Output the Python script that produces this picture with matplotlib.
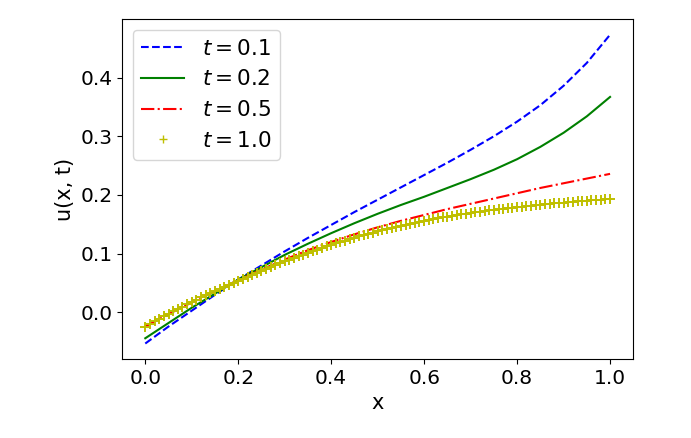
import matplotlib
matplotlib.use("Agg")
import matplotlib.pyplot as plt

# x grid for the line curves
x_lines = [0.00, 0.05, 0.10, 0.15, 0.20, 0.25, 0.30, 0.35, 0.40, 0.45, 0.50,
           0.55, 0.60, 0.65, 0.70, 0.75, 0.80, 0.85, 0.90, 0.95, 1.00]

u_t01 = [-0.053, -0.024, 0.003, 0.030, 0.056, 0.080, 0.104, 0.127, 0.149, 0.171, 0.192,
         0.213, 0.234, 0.255, 0.277, 0.300, 0.325, 0.353, 0.386, 0.425, 0.473]
u_t02 = [-0.044, -0.018, 0.008, 0.032, 0.056, 0.077, 0.098, 0.117, 0.135, 0.152, 0.168,
         0.183, 0.197, 0.212, 0.227, 0.243, 0.261, 0.282, 0.306, 0.334, 0.367]
u_t05 = [-0.024, -0.003, 0.017, 0.036, 0.055, 0.073, 0.090, 0.106, 0.120, 0.133, 0.145,
         0.156, 0.166, 0.176, 0.185, 0.194, 0.203, 0.212, 0.220, 0.228, 0.236]

# marker series (t = 1.0), sampled every 0.01
x_markers = [i / 100 for i in range(101)]
u_t10 = [-0.0240, -0.0196, -0.0152, -0.0109, -0.0066, -0.0024, 0.0018, 0.0059, 0.0100, 0.0140,
         0.0180, 0.0218, 0.0256, 0.0293, 0.0330, 0.0366, 0.0402, 0.0437, 0.0472, 0.0506,
         0.0540, 0.0574, 0.0608, 0.0642, 0.0675, 0.0708, 0.0741, 0.0773, 0.0805, 0.0837,
         0.0868, 0.0898, 0.0928, 0.0957, 0.0986, 0.1015, 0.1043, 0.1071, 0.1098, 0.1124,
         0.1150, 0.1175, 0.1200, 0.1224, 0.1248, 0.1271, 0.1294, 0.1316, 0.1338, 0.1359,
         0.1380, 0.1400, 0.1420, 0.1439, 0.1458, 0.1476, 0.1494, 0.1511, 0.1528, 0.1544,
         0.1560, 0.1575, 0.1590, 0.1604, 0.1618, 0.1632, 0.1645, 0.1658, 0.1671, 0.1683,
         0.1695, 0.1706, 0.1717, 0.1728, 0.1738, 0.1748, 0.1758, 0.1768, 0.1777, 0.1786,
         0.1795, 0.1803, 0.1811, 0.1819, 0.1827, 0.1835, 0.1843, 0.1850, 0.1857, 0.1864,
         0.1871, 0.1878, 0.1884, 0.1891, 0.1897, 0.1903, 0.1910, 0.1916, 0.1922, 0.1928,
         0.1934]

labels = [r"$t = 0.1$", r"$t = 0.2$", r"$t = 0.5$", r"$t = 1.0$"]

TICK_FS = 14.5
LABEL_FS = 15
LEGEND_FS = 15.5

fig = plt.figure(figsize=(6.91, 4.38), dpi=100)
ax = fig.add_axes([0.1766, 0.1804, 0.7399, 0.7756])

ax.plot(x_lines, u_t01, 'b--', label=labels[0])
ax.plot(x_lines, u_t02, 'g-', label=labels[1])
ax.plot(x_lines, u_t05, 'r-.', label=labels[2])
ax.plot(x_markers, u_t10, 'y+', markersize=7, markeredgewidth=1.4, label=labels[3])

ax.set_xlabel("x", fontsize=LABEL_FS)
ax.set_ylabel("u(x, t)", fontsize=LABEL_FS)
ax.tick_params(labelsize=TICK_FS)
ax.set_xticks([0.0, 0.2, 0.4, 0.6, 0.8, 1.0])
ax.set_yticks([0.0, 0.1, 0.2, 0.3, 0.4])
leg = ax.legend(loc='upper left', fontsize=LEGEND_FS)
for h in leg.legend_handles:
    try:
        h.set_markersize(6)
        h.set_markeredgewidth(1.0)
    except AttributeError:
        pass

fig.savefig("out.png", dpi=100)
